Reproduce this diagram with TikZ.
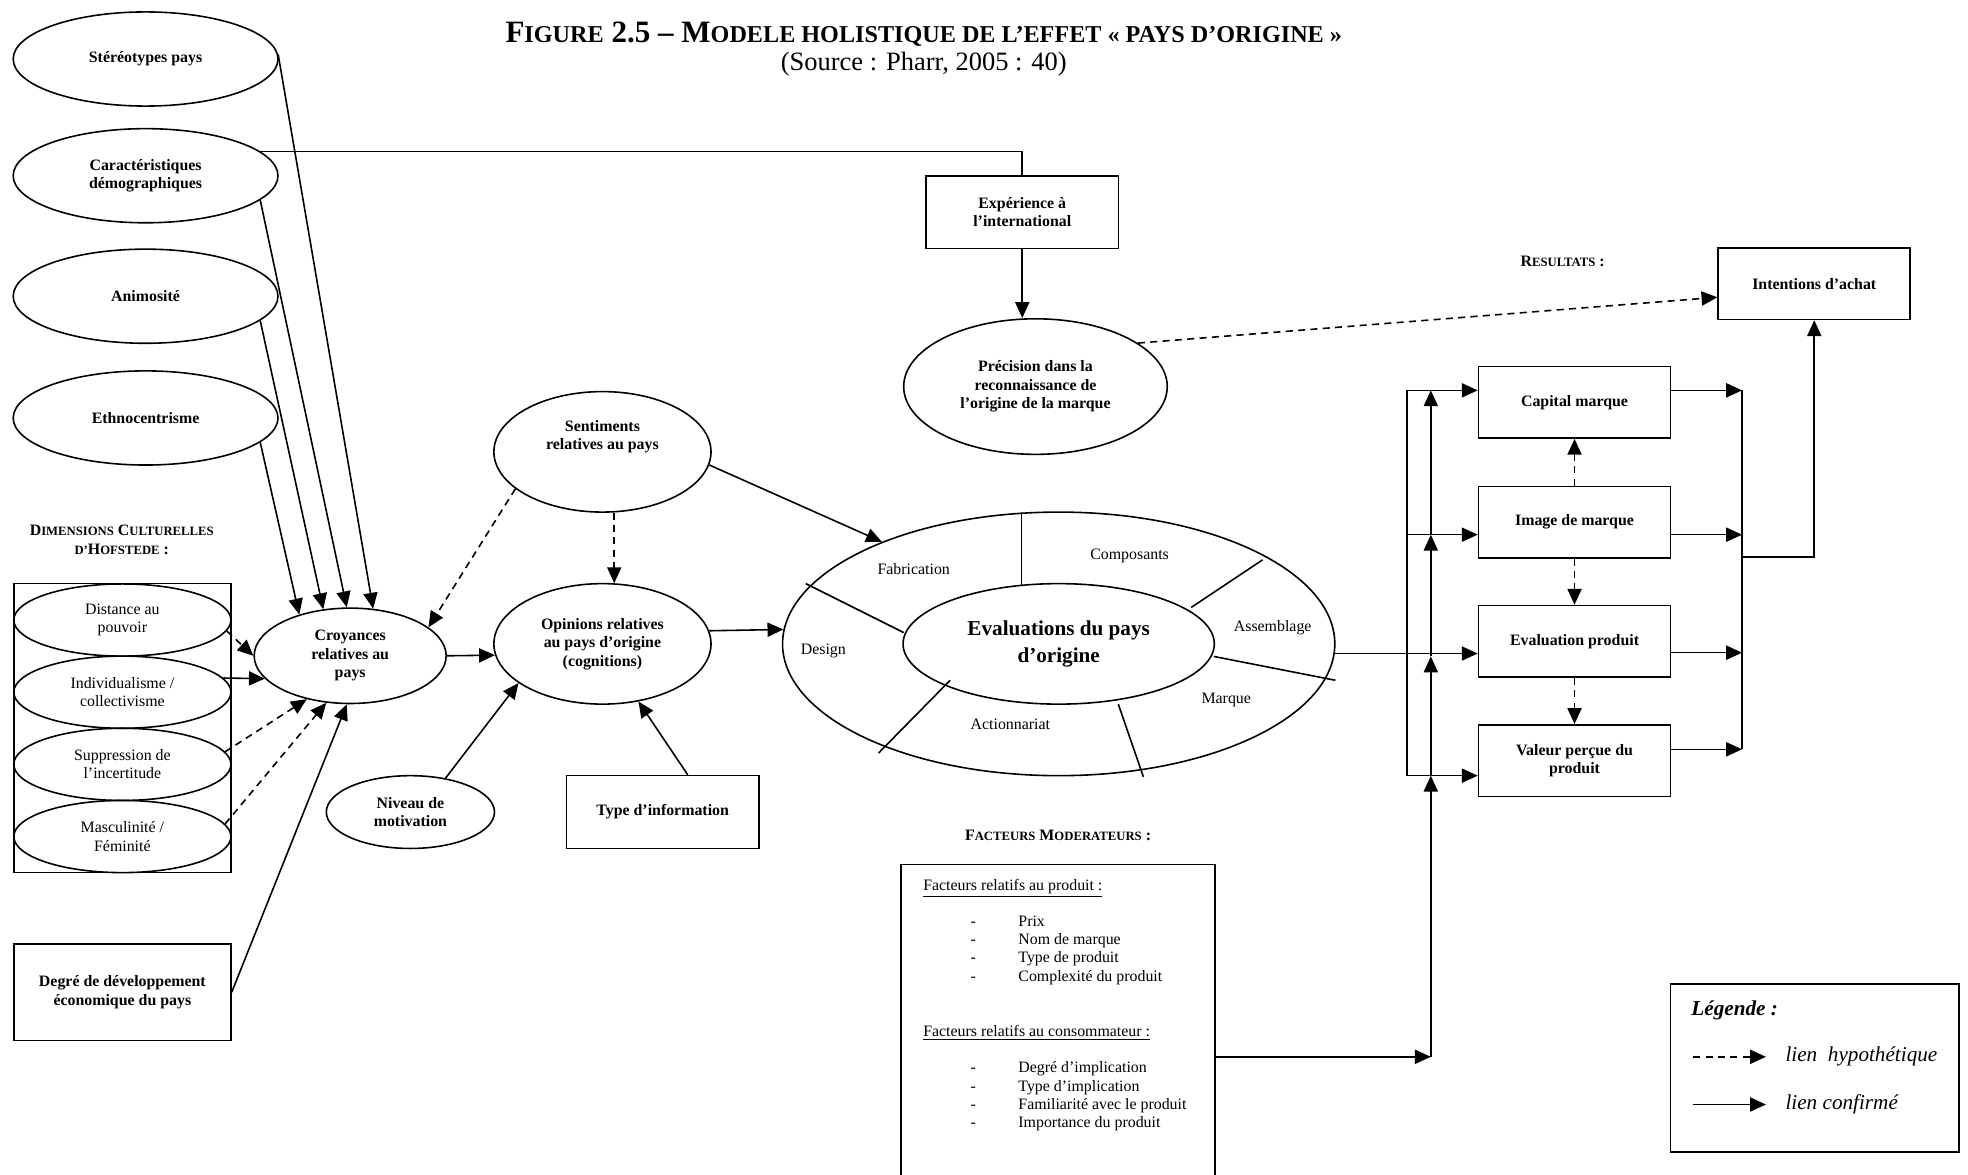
\documentclass[tikz,border=0pt]{standalone}
\usepackage{fontspec}
\setmainfont{Liberation Serif}
\usetikzlibrary{shapes.geometric, arrows.meta, positioning}

\newdimen\un \un=0.025cm
\newcommand{\lblfont}{\fontsize{9}{10.5}\selectfont\bfseries}
\newcommand{\regfont}{\fontsize{9}{10.4}\selectfont}
\newcommand{\mysc}[1]{{\fontsize{7.2}{8}\selectfont #1}}
\newcommand{\titlesc}[1]{{\fontsize{13.7}{16}\selectfont #1}}
\newcommand{\moditem}[1]{\hspace*{26.8pt}\makebox[27.1pt][l]{-}#1}

\begin{document}
\begin{tikzpicture}[x=0.025cm, y=-0.025cm, line width=0.9pt,
	ell/.style={draw, ellipse, inner sep=0pt, align=center, font=\lblfont},
	boxn/.style={draw, rectangle, inner sep=0pt, align=center, font=\lblfont},
	leftell/.style={ell, minimum width=211\un, minimum height=75\un},
	hofell/.style={ell, font=\regfont, minimum width=173\un, minimum height=57.5\un},
	resbox/.style={boxn, minimum width=153\un, minimum height=57\un},
	arr/.style={-{Triangle[length=9pt,width=8pt]}},
	hyp/.style={arr, dash pattern=on 4pt off 3pt}]
		\useasboundingbox (0,0) rectangle (1568,936);
		
		% Title
		\node (title) at (736,27) {\fontsize{17.6}{20}\selectfont\bfseries F\titlesc{IGURE} 2.5 -- M\titlesc{ODELE HOLISTIQUE DE L’EFFET « PAYS D’ORIGINE »}};
		\node (source) at (736,51) {\fontsize{15}{17}\selectfont (Source : Pharr, 2005 : 40)};
		
		% Antecedents on the left
		\node[leftell] (stereo) at (116,47) {Stéréotypes pays};
		\node[leftell] (caract) at (116,140) {Caractéristiques\\démographiques};
		\node[leftell] (anim) at (116,236) {Animosité};
		\node[leftell] (ethno) at (116,333) {Ethnocentrisme};
		
		% Hofstede dimensions
		\node[font=\lblfont, align=center] (hoflbl) at (97,430) {D\mysc{IMENSIONS} C\mysc{ULTURELLES}\\\mysc{D’}H\mysc{OFSTEDE} :};
		\node[boxn, minimum width=173\un, minimum height=230\un] (hofbox) at (97.5,580) {};
		\node[hofell] (dist) at (97.5,494) {Distance au\\pouvoir};
		\node[hofell] (indiv) at (97.5,551.5) {Individualisme /\\collectivisme};
		\node[hofell] (supp) at (97.5,609) {Suppression de\\l’incertitude};
		\node[hofell] (masc) at (97.5,666.5) {Masculinité /\\Féminité};
		
		\node[boxn, minimum width=173\un, minimum height=77\un] (degre) at (97.5,790.5) {Degré de développement\\économique du pays};
		
		% Beliefs, feelings, opinions
		\node[ell, minimum width=153\un, minimum height=76\un] (croy) at (279,522.5) {Croyances\\relatives au\\pays};
		\node[ell, minimum width=173\un, minimum height=96\un] (sent) at (480,360) {};
		\node[font=\lblfont, align=center] (sentlbl) at (480,348) {Sentiments\\relatives au pays};
		\node[ell, minimum width=173\un, minimum height=96\un] (opin) at (480,513) {Opinions relatives\\au pays d’origine\\(cognitions)};
		\node[ell, minimum width=134\un, minimum height=58\un] (niv) at (327,647) {Niveau de\\motivation};
		\node[boxn, minimum width=153\un, minimum height=58\un] (typeinfo) at (528,647) {Type d’information};
		
		\node[boxn, minimum width=153\un, minimum height=58\un] (exper) at (814.5,169) {Expérience à\\l’international};
		\node[ell, minimum width=210\un, minimum height=108\un] (prec) at (825,308) {Précision dans la\\reconnaissance de\\l’origine de la marque};
		
		% Evaluations ring
		\node[ell, minimum width=440\un, minimum height=210\un] (evalo) at (843.5,513) {};
		\node[ell, font=\fontsize{12}{15}\selectfont\bfseries, minimum width=248\un, minimum height=96\un] (evali) at (843.5,513) {Evaluations du pays\\d’origine};
		\foreach \ax/\ay/\bx/\by in {814/466/814/408, 949/484/1006/446, 967/523/1064/542, 891/561/911/619, 757/542/700/600, 720/504/642/465}
			\draw (\ax,\ay) -- (\bx,\by);
		\foreach \t/\x/\y in {Fabrication/728/453, Composants/900/443, Assemblage/1014/500, Marque/977/558, Actionnariat/805/577, Design/656/519}
			\node[font=\regfont] (seg\t) at (\x,\y) {\t};
		
		% Results
		\node[font=\lblfont] (reslbl) at (1245,208) {R\mysc{ESULTATS} :};
		\node[resbox] (intent) at (1445.5,226) {Intentions d’achat};
		\node[resbox] (capital) at (1254.5,320.5) {Capital marque};
		\node[resbox] (image) at (1254.5,416) {Image de marque};
		\node[resbox] (evalprod) at (1254.5,511) {Evaluation produit};
		\node[resbox] (valeur) at (1254.5,606) {Valeur perçue du\\produit};
		
		% Moderators
		\node[font=\lblfont] (modlbl) at (843,666) {F\mysc{ACTEURS} M\mysc{ODERATEURS} :};
		\node[boxn, anchor=north, minimum width=250\un, minimum height=262\un] (mod) at (843,688) {};
		\node[anchor=north west, align=left, font=\regfont, inner sep=0pt] (modtxt) at (735,700) {\underline{Facteurs relatifs au produit :}\\[9.8pt]
			\moditem{Prix}\\ \moditem{Nom de marque}\\ \moditem{Type de produit}\\ \moditem{Complexité du produit}\\[20.8pt]
			\underline{Facteurs relatifs au consommateur :}\\[10.2pt]
			\moditem{Degré d’implication}\\ \moditem{Type d’implication}\\ \moditem{Familiarité avec le produit}\\ \moditem{Importance du produit}};
		
		% Legend
		\node[boxn, minimum width=230\un, minimum height=134\un] (legend) at (1446,851) {};
		\node[anchor=west, inner sep=0pt, font=\fontsize{12}{14}\selectfont\bfseries\itshape] (legtitle) at (1347,805) {Légende :};
		\node[anchor=west, inner sep=0pt, font=\fontsize{12}{14}\selectfont\itshape] (hyptxt) at (1422,842) {lien\ \ hypothétique};
		\node[anchor=west, inner sep=0pt, font=\fontsize{12}{14}\selectfont\itshape] (conftxt) at (1422,880) {lien confirmé};
		\coordinate (hypstart) at (1349,842);
		\coordinate (confstart) at (1349,880);
		\draw[hyp, shorten >=15\un] (hypstart) -- (hyptxt.west);
		\draw[arr, shorten >=15\un] (confstart) -- (conftxt.west);
		
		% Arrows into the beliefs
		\draw[arr] (stereo.2) -- (croy.64);
		\draw[arr] (caract.-12) -- (croy.94);
		\draw[arr] (anim.-12) -- (croy.120);
		\draw[arr] (ethno.-12) -- (croy.141);
		\draw (caract.12) -| (exper.north);
		\draw[hyp] (dist.-6) -- (croy.180);
		\draw[arr] (indiv.8) -- (croy.195);
		\draw[hyp] (supp.7) -- (croy.225);
		\draw[hyp] (masc.7) -- (croy.243);
		\draw[arr] (degre.east) -- (croy.266);
		
		% Middle arrows
		\draw[hyp] (sent.203) -- (croy.20);
		\draw[hyp] (sent.-79) -- (opin.79);
		\draw[arr] (sent.-7) -- (evalo.150);
		\draw[arr] (croy.east) -- (opin.186.5);
		\draw[arr] (opin.7) -- (evalo.177);
		\draw[arr] (niv.44) -- (opin.205);
		\draw[arr] (typeinfo.56) -- (opin.-58);
		\draw[arr] (exper.south) -- (exper.south |- prec.north);
		\draw[hyp] (prec.23) -- (intent.188);
		
		% Rails towards the results
		\coordinate (o1) at (1121,311);
		\coordinate (o2) at (1121,426);
		\coordinate (o4) at (1121,618);
		\draw (o1) -- (o4);
		\draw[arr] (o1) -- (o1 -| capital.west);
		\draw[arr] (o2) -- (o2 -| image.west);
		\draw[arr] (o4) -- (o4 -| valeur.west);
		\draw[arr] (evalo.-2.6) -- (evalo.-2.6 -| evalprod.west);
		
		\coordinate (i0) at (1140,842);
		\coordinate (i1) at (1140,311);
		\coordinate (i2) at (1140,426);
		\coordinate (i3) at (1140,523);
		\coordinate (i4) at (1140,618);
		\draw[arr] (mod.east |- i0) -- (i0);
		\foreach \a/\b in {i0/i4, i4/i3, i3/i2, i2/i1}
			\draw[arr] (\a) -- (\b);
		
		\coordinate (r1) at (1388,311);
		\coordinate (r2) at (1388,426);
		\coordinate (r3) at (1388,520);
		\coordinate (r4) at (1388,597);
		\coordinate (rout) at (1388,444);
		\draw[arr] (capital.east |- r1) -- (r1);
		\draw[arr] (image.east |- r2) -- (r2);
		\draw[arr] (evalprod.east |- r3) -- (r3);
		\draw[arr] (valeur.east |- r4) -- (r4);
		\draw (r1) -- (r4);
		\draw[arr] (rout) -| (intent.south);
		
		\draw[hyp] (image.north) -- (capital.south);
		\draw[hyp] (image.south) -- (evalprod.north);
		\draw[hyp] (evalprod.south) -- (valeur.north);
\end{tikzpicture}
\end{document}
